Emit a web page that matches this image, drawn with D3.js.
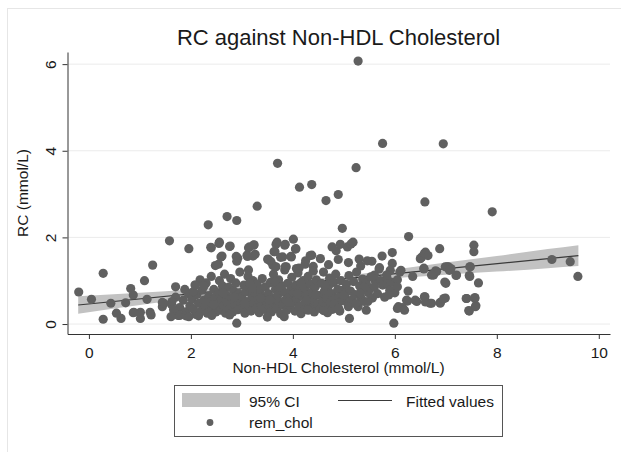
<!DOCTYPE html>
<html>
<head>
<meta charset="utf-8">
<script src="https://cdn.jsdelivr.net/npm/d3@7"></script>
<style>
  body { margin: 0; background: #fff; }
  text { font-family: "Liberation Sans", Arial, sans-serif; fill: #1a1a1a; }
</style>
</head>
<body>
<div id="chart"></div>
<script>
// 数据：rem_chol 散点（Non-HDL, RC）
const outlierPts = [
  [5.28,6.07],[5.76,4.17],[6.95,4.16],[3.70,3.71],[5.24,3.61],[4.13,3.16],[4.37,3.22],[4.65,2.85],[4.89,2.99],[3.30,2.72],
  [6.59,2.82],[7.91,2.59],[2.71,2.48],[2.90,2.39],[2.34,2.29],[4.97,2.21],[6.27,2.02],[1.58,1.92],[1.96,1.74],[4.01,1.96],
  [4.06,1.74],[2.55,1.86],[2.39,1.77],[2.77,1.80],[2.61,1.57],[3.15,1.78],[3.24,1.83],[3.22,1.57],[3.11,1.56],[2.89,1.56],
  [2.90,1.45],[3.67,1.84],[3.84,1.82],[3.63,1.67],[3.76,1.54],[3.96,1.56],[3.51,1.49],[3.61,1.35],[3.67,1.32],[3.87,1.32],
  [4.12,1.29],[4.25,1.46],[4.37,1.59],[4.54,1.51],[4.70,1.37],[4.77,1.78],[4.85,1.69],[4.89,1.49],[4.93,1.84],[5.07,1.78],
  [5.14,1.85],[5.18,1.89],[5.09,1.42],[5.33,1.34],[5.46,1.46],[5.75,1.57],[5.95,1.65],[6.50,1.51],[6.58,1.63],[6.65,1.58],
  [6.88,1.74],[7.55,1.82],[7.55,1.67],[9.08,1.49],[9.44,1.44],[9.59,1.10],[7.47,1.32],[7.20,1.12],[7.47,1.10],[7.64,0.95],
  [7.03,1.32],[7.07,1.24],[6.80,1.23],[6.72,1.13],[6.98,0.97],[6.57,1.27],[6.12,1.24],[5.91,1.24],[5.84,1.13],[5.69,1.27],
  [5.60,1.13],[5.53,1.09],[6.05,0.86],[6.26,0.76],[5.88,0.67],[5.60,0.86],[5.39,0.85],[5.32,0.71],[6.58,0.63],[6.60,0.51],
  [6.40,0.55],[6.23,0.55],[6.72,0.48],[6.89,0.50],[6.96,0.59],[7.40,0.59],[7.57,0.59],[7.45,0.31],[7.58,0.40],[6.05,0.36],
  [6.19,0.32],[5.98,0.02],[5.47,0.52],[5.44,0.32],[5.11,0.13],[5.09,0.40],[5.23,0.47],[4.90,0.36],[4.60,0.31],[4.30,0.32],
  [3.83,0.17],[3.50,0.16],[2.90,0.02],[2.76,0.21],[2.41,0.20],[1.96,0.17],[1.61,0.17],[1.22,0.21],[1.01,0.13],[0.87,0.26],
  [0.63,0.13],[0.54,0.25],[0.28,0.11],[0.28,1.17],[-0.20,0.74],[0.05,0.57],[0.43,0.48],[0.72,0.49],[0.82,0.82],[0.87,0.67],
  [1.09,1.00],[1.25,1.36],[1.14,0.57],[1.47,0.48],[1.70,0.86]
];
const midPts = [
  [2.40,1.76],[2.56,1.89],[2.76,1.79],[2.59,1.55],[2.92,1.52],[3.13,1.76],[3.23,1.82],[3.10,1.59],[3.26,1.61],[3.69,1.89],
  [3.85,1.84],[3.65,1.67],[3.80,1.55],[3.51,1.50],[3.57,1.44],[3.97,1.55],[4.05,1.73],[4.34,1.58],[4.40,1.33],[4.24,1.38],
  [2.54,1.38],[2.48,1.35],[3.13,1.25],[3.85,1.32],[4.07,1.28],[4.40,1.22],[2.15,0.19],
  [1.01,0.27],[1.20,0.27],[1.44,0.40],[1.44,0.50],[1.63,0.52],[1.78,0.20],[1.90,0.19],[2.09,0.90],[0.88,0.27],
  [6.53,1.55],[6.60,1.66],[6.57,1.29],[6.76,1.13],[6.82,1.21],[6.99,1.32],[6.25,0.53],[6.43,0.52],[6.59,0.63],[6.69,0.48],
  [6.89,0.48],[6.07,0.40],[6.15,0.38],[7.05,1.32],[7.10,1.28],[7.48,1.32],[7.21,1.13],[7.46,1.12],[7.00,0.94],[6.99,0.60],
  [7.41,0.59],[7.57,0.61],[7.59,0.42],[7.46,0.30],
  [5.55,1.45],[5.70,1.30],[5.95,1.40],[6.10,1.20],[6.35,1.10],[5.30,1.50],[5.85,1.05]
];
const densePts = [
  [1.62,0.45],[1.70,0.62],[1.78,0.38],[1.85,0.55],[1.90,0.28],[1.95,0.70],[1.98,0.42],[1.75,0.20],[1.88,0.80],[1.66,0.33],
  [2.02,0.58],[2.05,0.35],[2.08,0.90],[2.10,0.22],[2.12,0.68],[2.15,0.48],[2.18,1.02],[2.20,0.30],[2.22,0.78],[2.25,0.55],
  [2.28,0.40],[2.30,0.95],[2.32,0.25],[2.35,0.65],[2.38,0.50],[2.40,1.10],[2.42,0.35],[2.45,0.80],[2.47,0.60],[2.49,0.28],
  [2.52,0.45],[2.54,0.72],[2.56,1.00],[2.58,0.32],[2.60,0.58],[2.62,0.88],[2.64,0.42],[2.66,1.15],[2.68,0.25],[2.70,0.66],
  [2.72,0.50],[2.74,0.85],[2.76,0.36],[2.78,1.05],[2.80,0.60],[2.82,0.28],[2.84,0.76],[2.86,0.45],[2.88,0.95],[2.90,0.55],
  [2.92,0.33],[2.94,0.70],[2.96,1.20],[2.98,0.48],
  [3.00,0.62],[3.02,0.38],[3.04,0.90],[3.06,0.25],[3.08,0.74],[3.10,0.52],[3.12,1.10],[3.14,0.42],[3.16,0.82],[3.18,0.30],
  [3.20,0.64],[3.22,1.00],[3.24,0.48],[3.26,0.72],[3.28,0.36],[3.30,0.92],[3.32,0.56],[3.34,0.26],[3.36,0.78],[3.38,0.44],
  [3.40,1.05],[3.42,0.62],[3.44,0.34],[3.46,0.86],[3.48,0.52],
  [3.52,0.70],[3.54,0.40],[3.56,0.96],[3.58,0.28],[3.60,0.60],[3.62,1.15],[3.64,0.48],[3.66,0.80],[3.68,0.36],[3.70,0.66],
  [3.72,1.02],[3.74,0.52],[3.76,0.24],[3.78,0.88],[3.80,0.44],[3.82,0.74],[3.84,1.25],[3.86,0.56],[3.88,0.32],[3.90,0.94],
  [3.92,0.62],[3.94,0.42],[3.96,0.80],[3.98,1.08],
  [4.00,0.50],[4.02,0.72],[4.04,0.30],[4.06,0.90],[4.08,0.58],[4.10,1.18],[4.12,0.40],[4.14,0.78],[4.16,0.24],[4.18,0.64],
  [4.20,1.00],[4.22,0.46],[4.24,0.84],[4.26,0.34],[4.28,0.68],[4.30,1.10],[4.32,0.52],[4.34,0.92],[4.36,0.38],[4.38,0.74],
  [4.40,0.56],[4.42,0.28],[4.44,0.86],[4.46,1.02],[4.48,0.46],
  [4.52,0.66],[4.54,0.36],[4.56,0.94],[4.58,0.52],[4.60,1.20],[4.62,0.76],[4.64,0.42],[4.66,0.60],[4.68,0.26],[4.70,0.88],
  [4.72,1.06],[4.74,0.50],[4.76,0.70],[4.78,0.34],[4.80,0.96],[4.82,0.58],[4.84,1.15],[4.86,0.44],[4.88,0.80],[4.90,0.62],
  [4.92,0.30],[4.94,1.00],[4.96,0.54],[4.98,0.78],
  [5.02,0.64],[5.05,0.92],[5.08,0.46],[5.10,1.12],[5.13,0.76],[5.16,0.56],[5.19,0.98],[5.22,0.68],[5.25,1.20],[5.28,0.40],
  [5.31,0.88],[5.34,0.60],[5.37,1.04],[5.40,0.52],[5.44,0.94],[5.48,0.72],
  [5.52,0.82],[5.56,0.60],[5.62,0.98],[5.66,0.70],[5.72,1.00],[5.76,0.90],[5.80,0.62],[5.85,0.92],[5.90,0.78],[5.95,0.96],
  [6.00,0.72],[6.05,1.02],
  [2.05,0.75],[2.26,0.88],[2.44,0.45],[2.63,0.72],[2.85,0.62],[3.05,0.48],[3.21,0.82],[3.37,0.60],[3.55,0.55],[3.73,0.85],
  [3.91,0.50],[4.09,0.70],[4.27,0.55],[4.45,0.68],[4.63,0.90],[4.81,0.46],[4.99,0.66],[3.15,0.95],[3.65,0.98],[4.15,0.95]
];

// 拟合线与95%置信区间
const fitX = [-0.21, 9.6];
const fitY = [0.44, 1.58];
const ciX  = [-0.21, 1, 2, 3, 4, 5, 6, 7, 8, 9, 9.6];
const ciLo = [0.24, 0.44, 0.60, 0.74, 0.87, 0.97, 1.06, 1.14, 1.21, 1.29, 1.34];
const ciHi = [0.64, 0.72, 0.80, 0.88, 0.99, 1.11, 1.26, 1.42, 1.57, 1.73, 1.82];

const xTicks = [0, 2, 4, 6, 8, 10];
const yTicks = [0, 2, 4, 6];

const width = 621, height = 452;
const svg = d3.select("#chart").append("svg")
  .attr("width", width).attr("height", height);

// 外框
svg.append("line").attr("x1", 7).attr("x2", width).attr("y1", 8.5).attr("y2", 8.5)
  .attr("stroke", "#e6e6e6");
svg.append("line").attr("x1", 7.5).attr("x2", 7.5).attr("y1", 8).attr("y2", height)
  .attr("stroke", "#e6e6e6");

const x = d3.scaleLinear().domain([-0.42, 10.22]).range([67.5, 610]);
const y = d3.scaleLinear().domain([-0.23, 6.28]).range([334, 52]);

// 网格线
svg.append("g").selectAll("line").data(yTicks).join("line")
  .attr("x1", 68).attr("x2", 610)
  .attr("y1", d => y(d)).attr("y2", d => y(d))
  .attr("stroke", "#ebebeb").attr("stroke-width", 1);

// 置信区间
const ciData = ciX.map((v, i) => ({x: v, lo: ciLo[i], hi: ciHi[i]}));
svg.append("path").datum(ciData)
  .attr("d", d3.area().x(d => x(d.x)).y0(d => y(d.lo)).y1(d => y(d.hi)).curve(d3.curveMonotoneX))
  .attr("fill", "#c2c2c2");

// 拟合线
svg.append("path").datum(fitX.map((v, i) => [v, fitY[i]]))
  .attr("d", d3.line().x(d => x(d[0])).y(d => y(d[1])))
  .attr("stroke", "#3a3a3a").attr("stroke-width", 1.2).attr("fill", "none");

// 散点
const allPts = [...densePts, ...midPts, ...outlierPts];
svg.append("g").selectAll("circle").data(allPts).join("circle")
  .attr("cx", d => x(d[0])).attr("cy", d => y(d[1])).attr("r", 4.6)
  .attr("fill", "#606060");

// 坐标轴
const xAxis = svg.append("g").attr("transform", "translate(0,334)")
  .call(d3.axisBottom(x).tickValues(xTicks).tickFormat(d3.format("d")).tickSize(5).tickSizeOuter(0));
xAxis.select(".domain").attr("stroke", "#333");
xAxis.selectAll(".tick line").attr("stroke", "#333");
xAxis.selectAll("text").attr("y", 23.5).attr("dy", 0)
  .style("font-size", "15.5px").style("font-family", "Liberation Sans, Arial, sans-serif").attr("fill", "#1a1a1a");

const yAxis = svg.append("g").attr("transform", "translate(67.5,0)")
  .call(d3.axisLeft(y).tickValues(yTicks).tickFormat(d3.format("d")).tickSize(5).tickSizeOuter(0));
yAxis.select(".domain").attr("stroke", "#333");
yAxis.selectAll(".tick line").attr("stroke", "#333");
yAxis.selectAll("text").attr("x", 0).attr("y", -12).attr("dy", 0)
  .attr("transform", "rotate(-90)").attr("text-anchor", "middle")
  .style("font-size", "15.5px").style("font-family", "Liberation Sans, Arial, sans-serif").attr("fill", "#1a1a1a");

// 标题
svg.append("text").attr("x", 338.5).attr("y", 45).attr("text-anchor", "middle")
  .style("font-size", "22px").text("RC against Non-HDL Cholesterol");
svg.append("text").attr("x", 338.5).attr("y", 373).attr("text-anchor", "middle")
  .style("font-size", "15.5px").text("Non-HDL Cholesterol (mmol/L)");
svg.append("text").attr("transform", "translate(28,193) rotate(-90)").attr("text-anchor", "middle")
  .style("font-size", "15.5px").text("RC (mmol/L)");

// 图例
const lg = svg.append("g");
lg.append("rect").attr("x", 174.5).attr("y", 385.5).attr("width", 328).attr("height", 51)
  .attr("fill", "#fff").attr("stroke", "#555");
lg.append("rect").attr("x", 182).attr("y", 393).attr("width", 58).attr("height", 14).attr("fill", "#c2c2c2");
lg.append("text").attr("x", 249).attr("y", 406.5).style("font-size", "15.5px").text("95% CI");
lg.append("line").attr("x1", 338).attr("x2", 392).attr("y1", 400.5).attr("y2", 400.5)
  .attr("stroke", "#3a3a3a").attr("stroke-width", 1.2);
lg.append("text").attr("x", 406).attr("y", 406.5).style("font-size", "15.5px").text("Fitted values");
lg.append("circle").attr("cx", 210).attr("cy", 422.5).attr("r", 3.4).attr("fill", "#606060");
lg.append("text").attr("x", 249).attr("y", 427.5).style("font-size", "15.5px").text("rem_chol");
</script>
</body>
</html>
